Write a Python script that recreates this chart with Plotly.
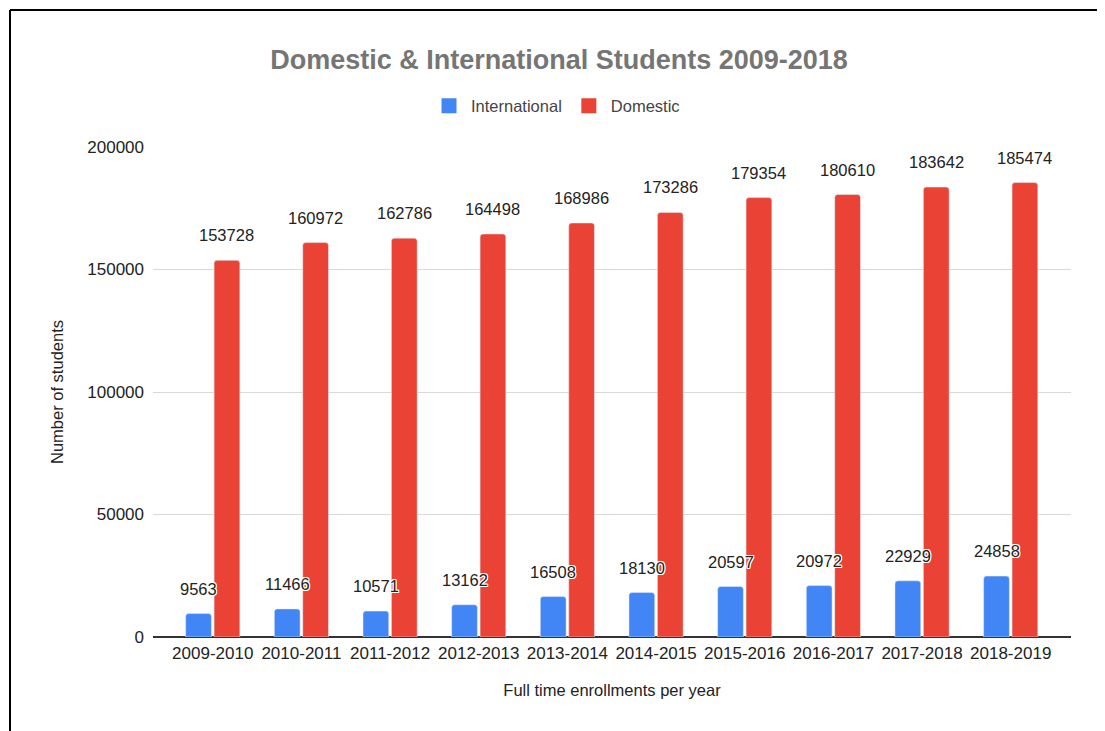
import plotly.graph_objects as go

years = ["2009-2010", "2010-2011", "2011-2012", "2012-2013", "2013-2014",
         "2014-2015", "2015-2016", "2016-2017", "2017-2018", "2018-2019"]
international = [9563, 11466, 10571, 13162, 16508, 18130, 20597, 20972, 22929, 24858]
domestic = [153728, 160972, 162786, 164498, 168986, 173286, 179354, 180610, 183642, 185474]

BLUE = "#4285F4"
RED = "#EA4335"
FONT = "Liberation Sans, Arial, sans-serif"

# page has an 8px body margin; figure coords = page coords - 8
W, H = 1097, 723
L, R, T, B = 145, 34, 139, 94

fig = go.Figure()
fig.add_trace(go.Bar(name="International", x=years, y=international, marker_color=BLUE,
                     legendgroup="int", showlegend=False))
fig.add_trace(go.Bar(name="Domestic", x=years, y=domestic, marker_color=RED,
                     legendgroup="dom", showlegend=False))
# legend entries with larger square swatches
fig.add_trace(go.Scatter(name="International", x=[None], y=[None], mode="markers",
                         marker=dict(symbol="square", size=15, color=BLUE),
                         legendgroup="int", showlegend=True))
fig.add_trace(go.Scatter(name="Domestic", x=[None], y=[None], mode="markers",
                         marker=dict(symbol="square", size=15, color=RED),
                         legendgroup="dom", showlegend=True))

halo = "1px 1px 0 #fff, -1px -1px 0 #fff, 1px -1px 0 #fff, -1px 1px 0 #fff, 0 1px 0 #fff, 0 -1px 0 #fff, 1px 0 0 #fff, -1px 0 0 #fff"
annotations = []
for series, shift in ((international, -14.2), (domestic, 14.2)):
    for cat, val in zip(years, series):
        annotations.append(dict(
            x=cat, y=val, xref="x", yref="y", text=str(val), showarrow=False,
            xshift=shift, yshift=25, yanchor="middle", xanchor="center",
            font=dict(family=FONT, size=16.5, color="#222222", shadow=halo),
        ))

pw, ph = W - L - R, H - T - B
fig.update_layout(
    width=W, height=H,
    margin=dict(l=L, r=R, t=T, b=B),
    paper_bgcolor="white", plot_bgcolor="white",
    font=dict(family=FONT, color="#222222"),
    title=dict(text="<b>Domestic & International Students 2009-2018</b>",
               x=551 / W, xanchor="center", y=1 - 52 / H, yanchor="middle",
               font=dict(family=FONT, size=27, color="#757575")),
    legend=dict(orientation="h", x=(548 - L) / pw, xanchor="center",
                y=(H - B - 98) / ph, yanchor="middle",
                font=dict(family=FONT, size=16.5, color="#444444"),
                itemwidth=34, itemsizing="trace", traceorder="normal"),
    barmode="group", bargap=0.359, bargroupgap=0.094, barcornerradius=3,
    annotations=annotations,
    showlegend=True,
)
fig.update_xaxes(
    type="category", range=[-0.674, 9.68],
    showgrid=False, showline=False, ticks="", ticklabelstandoff=4,
    tickfont=dict(family=FONT, size=17, color="#222222"),
    title=dict(text="Full time enrollments per year", standoff=22,
               font=dict(family=FONT, size=16.5, color="#222222")),
)
fig.update_yaxes(
    range=[0, 200000], tickvals=[0, 50000, 100000, 150000, 200000],
    tickformat="d", showgrid=True, gridcolor="#d9d9d9", gridwidth=1,
    zeroline=True, zerolinecolor="#333333", zerolinewidth=1.5,
    ticks="", ticklabelstandoff=8,
    tickfont=dict(family=FONT, size=17, color="#222222"),
    title=dict(text="Number of students", standoff=19,
               font=dict(family=FONT, size=16.5, color="#222222")),
)
# outer frame: black border along the left and top edges
fx0 = (2 - L) / pw
fy1 = (H - B - 2) / ph
fig.add_shape(type="line", xref="paper", yref="paper",
              x0=fx0, x1=(W + 20 - L) / pw, y0=fy1, y1=fy1,
              line=dict(color="black", width=2), layer="above")
fig.add_shape(type="line", xref="paper", yref="paper",
              x0=fx0, x1=fx0, y0=(H - B - (H + 20)) / ph, y1=fy1,
              line=dict(color="black", width=2), layer="above")

fig.write_html("out.html")
